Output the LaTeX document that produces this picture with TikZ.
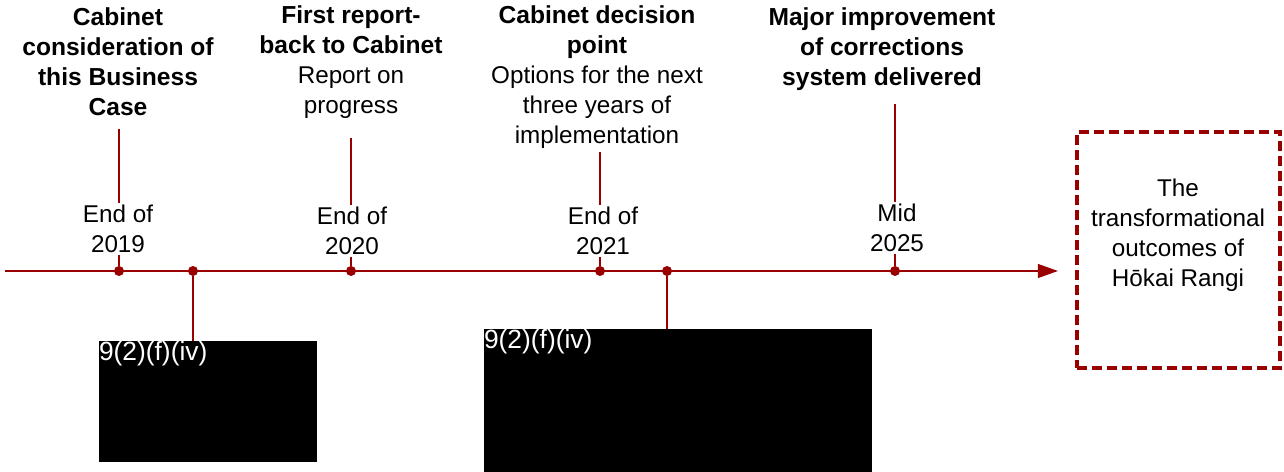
\documentclass[tikz,border=0pt]{standalone}
\usepackage{fontspec}
\setmainfont{Liberation Sans}
\usetikzlibrary{arrows.meta}
\definecolor{maroon}{RGB}{153,0,0}
\tikzset{
  lbl/.style={align=center, inner sep=0pt, font=\fontsize{13.8}{17}\selectfont},
  datelbl/.style={lbl, fill=white, inner sep=1pt},
  dot/.style={circle, fill=maroon, inner sep=0pt, minimum size=0.2cm},
  tick/.style={maroon, line width=0.6pt},
  redacted/.style={fill=black, inner sep=0pt},
  redtext/.style={lbl, text=white, anchor=north west, font=\fontsize{15}{17}\selectfont},
  goalbox/.style={draw=maroon, line width=2.4pt, dash pattern=on 0.2cm off 0.1cm, inner sep=0pt, minimum width=4.06cm, minimum height=4.72cm}
}
\newcommand{\hd}[1]{{\fontsize{14}{17}\selectfont\bfseries #1}}
\begin{document}
\begin{tikzpicture}[x=0.02cm, y=-0.02cm]
			%%%%% START %%%%%
			\useasboundingbox (0, 0) rectangle (1284, 472);
			
			% milestones above the line
			\node[lbl] (h1) at (118, 62) {\hd{Cabinet}\\\hd{consideration of}\\\hd{this Business}\\\hd{Case}};
			\node[lbl] (h2) at (351, 62) {\hd{First report-}\\\hd{back to Cabinet}\\Report on\\progress};
			\node[lbl] (h3) at (597, 77) {\hd{Cabinet decision}\\\hd{point}\\Options for the next\\three years of\\implementation};
			\node[lbl] (h4) at (882, 49) {\hd{Major improvement}\\\hd{of corrections}\\\hd{system delivered}};
			
			% the time line
			\coordinate (start) at (5, 271);
			\node[goalbox] (goal) at (1178.5, 250) {};
			\node[lbl] (goaltxt) at (1178, 235) {The\\transformational\\outcomes of\\Hōkai Rangi};
			\draw[maroon, line width=0.6pt, -{Triangle[length=0.4cm, width=0.28cm]}, shorten >=0.34cm] (start) -- (start -| goal.west);
			
			\node[dot] (d1) at (119, 271) {};
			\node[dot] (d2) at (193, 271) {};
			\node[dot] (d3) at (351, 271) {};
			\node[dot] (d4) at (600, 271) {};
			\node[dot] (d5) at (667, 271) {};
			\node[dot] (d6) at (895, 271) {};
			
			\draw[tick, shorten >=0.26cm] (d1) -- (d1 |- h1.south);
			\draw[tick, shorten >=0.38cm] (d3) -- (d3 |- h2.south);
			\draw[tick, shorten >=0.06cm] (d4) -- (d4 |- h3.south);
			\draw[tick, shorten >=0.26cm] (d6) -- (d6 |- h4.south);
			
			\node[datelbl] (t1) at (118, 229) {End of\\2019};
			\node[datelbl] (t2) at (352, 231) {End of\\2020};
			\node[datelbl] (t3) at (603, 231) {End of\\2021};
			\node[datelbl] (t4) at (897, 228) {Mid\\2025};
			
			% withheld parts below the line
			\node[redacted, minimum width=4.36cm, minimum height=2.42cm] (b1) at (208, 401.5) {};
			\node[redacted, minimum width=7.76cm, minimum height=2.9cm] (b2) at (678, 401.5) {};
			\node[redtext] (r1) at (b1.north west) {9(2)(f)(iv)};
			\node[redtext] (r2) at (b2.north west) {9(2)(f)(iv)};
			
			\draw[tick] (d2) -- (d2 |- b1.north);
			\draw[tick] (d5) -- (d5 |- b2.north);
			%%%%% END %%%%%
\end{tikzpicture}
\end{document}
